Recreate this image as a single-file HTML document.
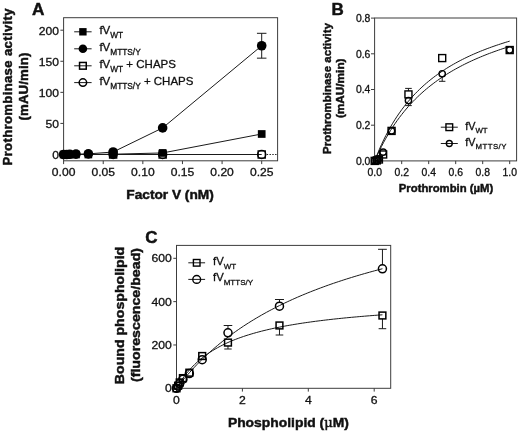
<!DOCTYPE html>
<html lang="en">
<head>
<meta charset="utf-8">
<title>Figure: prothrombinase activity and phospholipid binding</title>
<style>
html,body{margin:0;padding:0;background:#fff;}
body{width:520px;height:434px;overflow:hidden;}
svg{display:block;will-change:transform;opacity:0.999;}
svg text{font-family:"Liberation Sans",Arial,Helvetica,sans-serif;fill:#111;stroke:#111;stroke-width:0.3px;}
svg text[font-weight="bold"]{stroke-width:0.45px;}
</style>
</head>
<body>
<svg width="520" height="434" viewBox="0 0 520 434">
<rect width="520" height="434" fill="#fff"/>
<g id="panelA">
<text transform="translate(32 14.7) scale(1.08 1)" font-size="15.93" text-anchor="start" font-weight="bold">A</text>
<rect x="63.6" y="17.7" width="214" height="143.1" fill="none" stroke="#3c3c3c" stroke-width="1"/>
<path d="M60.4 154.5H63.6" stroke="#3c3c3c" stroke-width="1"/>
<text transform="translate(59 159.1) scale(1.09 1)" font-size="11.1" text-anchor="end">0</text>
<path d="M60.4 123.42H63.6" stroke="#3c3c3c" stroke-width="1"/>
<text transform="translate(59 128.03) scale(1.09 1)" font-size="11.1" text-anchor="end">50</text>
<path d="M60.4 92.35H63.6" stroke="#3c3c3c" stroke-width="1"/>
<text transform="translate(59 96.95) scale(1.09 1)" font-size="11.1" text-anchor="end">100</text>
<path d="M60.4 61.27H63.6" stroke="#3c3c3c" stroke-width="1"/>
<text transform="translate(59 65.87) scale(1.09 1)" font-size="11.1" text-anchor="end">150</text>
<path d="M60.4 30.2H63.6" stroke="#3c3c3c" stroke-width="1"/>
<text transform="translate(59 34.8) scale(1.09 1)" font-size="11.1" text-anchor="end">200</text>
<path d="M63.6 160.8V164.1" stroke="#3c3c3c" stroke-width="1"/>
<text transform="translate(63.6 176.2) scale(1.07 1)" font-size="11.31" text-anchor="middle">0.00</text>
<path d="M103.22 160.8V164.1" stroke="#3c3c3c" stroke-width="1"/>
<text transform="translate(103.22 176.2) scale(1.07 1)" font-size="11.31" text-anchor="middle">0.05</text>
<path d="M142.84 160.8V164.1" stroke="#3c3c3c" stroke-width="1"/>
<text transform="translate(142.84 176.2) scale(1.07 1)" font-size="11.31" text-anchor="middle">0.10</text>
<path d="M182.46 160.8V164.1" stroke="#3c3c3c" stroke-width="1"/>
<text transform="translate(182.46 176.2) scale(1.07 1)" font-size="11.31" text-anchor="middle">0.15</text>
<path d="M222.08 160.8V164.1" stroke="#3c3c3c" stroke-width="1"/>
<text transform="translate(222.08 176.2) scale(1.07 1)" font-size="11.31" text-anchor="middle">0.20</text>
<path d="M261.7 160.8V164.1" stroke="#3c3c3c" stroke-width="1"/>
<text transform="translate(261.7 176.2) scale(1.07 1)" font-size="11.31" text-anchor="middle">0.25</text>
<path d="M266.7 154.5H277.6" stroke="#1a1a1a" stroke-width="1" stroke-dasharray="1.4 1.4"/>
<text transform="translate(12.1 86.8) rotate(-90) scale(1.07 1)" font-size="12.24" text-anchor="middle" font-weight="bold" letter-spacing="0.34">Prothrombinase activity</text>
<text transform="translate(27.6 86.5) rotate(-90) scale(1.07 1)" font-size="12.34" text-anchor="middle" font-weight="bold" letter-spacing="0.15">(mAU/min)</text>
<text transform="translate(170 199.4) scale(1.09 1)" font-size="12.57" text-anchor="middle" font-weight="bold">Factor V (nM)</text>
<polyline points="63.6,154.5 66.69,154.5 69.78,154.31 75.96,154.13 88.36,153.88 113.12,152.01 162.65,127.9 261.7,45.74" fill="none" stroke="#1a1a1a" stroke-width="1" stroke-linejoin="round"/>
<polyline points="63.6,154.5 66.69,154.5 69.78,154.5 75.96,154.5 88.36,154.5 113.12,154.19 162.65,152.95 261.7,133.99" fill="none" stroke="#1a1a1a" stroke-width="1" stroke-linejoin="round"/>
<polyline points="63.6,154.5 66.69,154.5 69.78,154.5 75.96,154.5 88.36,154.5 113.12,154.5 162.65,154.5 261.7,154.5" fill="none" stroke="#1a1a1a" stroke-width="1" stroke-linejoin="round"/>
<path d="M261.7 45.74V33.31M256.95 33.31H266.45" stroke="#1a1a1a" stroke-width="1" fill="none"/>
<path d="M261.7 45.74V58.17M256.95 58.17H266.45" stroke="#1a1a1a" stroke-width="1" fill="none"/>
<circle cx="63.6" cy="154.5" r="4.8" fill="#000"/>
<circle cx="66.69" cy="154.5" r="4.8" fill="#000"/>
<circle cx="69.78" cy="154.31" r="4.8" fill="#000"/>
<circle cx="75.96" cy="154.13" r="4.8" fill="#000"/>
<circle cx="88.36" cy="153.88" r="4.8" fill="#000"/>
<circle cx="113.12" cy="152.01" r="4.8" fill="#000"/>
<circle cx="162.65" cy="127.9" r="4.8" fill="#000"/>
<circle cx="261.7" cy="45.74" r="4.8" fill="#000"/>
<rect x="59.75" y="150.65" width="7.7" height="7.7" fill="#000"/>
<rect x="62.84" y="150.65" width="7.7" height="7.7" fill="#000"/>
<rect x="65.93" y="150.65" width="7.7" height="7.7" fill="#000"/>
<rect x="72.11" y="150.65" width="7.7" height="7.7" fill="#000"/>
<rect x="84.51" y="150.65" width="7.7" height="7.7" fill="#000"/>
<rect x="109.28" y="150.34" width="7.7" height="7.7" fill="#000"/>
<rect x="158.8" y="149.1" width="7.7" height="7.7" fill="#000"/>
<rect x="257.85" y="130.14" width="7.7" height="7.7" fill="#000"/>
<rect x="109.53" y="150.9" width="7.2" height="7.2" fill="none" stroke="#000" stroke-width="1.3"/>
<rect x="159.05" y="150.9" width="7.2" height="7.2" fill="none" stroke="#000" stroke-width="1.3"/>
<rect x="258.1" y="150.9" width="7.2" height="7.2" fill="none" stroke="#000" stroke-width="1.3"/>
<circle cx="113.12" cy="154.5" r="4.1" fill="none" stroke="#000" stroke-width="1.3"/>
<circle cx="162.65" cy="154.5" r="4.1" fill="none" stroke="#000" stroke-width="1.3"/>
<circle cx="261.7" cy="154.5" r="4.1" fill="none" stroke="#000" stroke-width="1.3"/>
<path d="M74.2 31.8H91.6" stroke="#1a1a1a" stroke-width="1"/>
<path d="M74.2 48.8H91.6" stroke="#1a1a1a" stroke-width="1"/>
<path d="M74.2 65.8H91.6" stroke="#1a1a1a" stroke-width="1"/>
<path d="M74.2 82.6H91.6" stroke="#1a1a1a" stroke-width="1"/>
<rect x="79.2" y="28.1" width="7.4" height="7.4" fill="#000"/>
<circle cx="82.9" cy="48.8" r="4.3" fill="#000"/>
<rect x="79.55" y="62.45" width="6.7" height="6.7" fill="none" stroke="#000" stroke-width="1.5"/>
<circle cx="82.9" cy="82.6" r="3.75" fill="none" stroke="#000" stroke-width="1.5"/>
<text x="99.4" y="34.2" font-size="11.5">fV<tspan dy="4.14" font-size="8.3" letter-spacing="0">WT</tspan></text>
<text x="99.4" y="51.2" font-size="11.5">fV<tspan dy="4.14" font-size="8.3" letter-spacing="0">MTTS/Y</tspan></text>
<text x="99.4" y="68.2" font-size="11.5">fV<tspan dy="4.14" font-size="8.3" letter-spacing="0">WT</tspan><tspan dy="-4.14" font-size="11.5"> + CHAPS</tspan></text>
<text x="99.4" y="85" font-size="11.5">fV<tspan dy="4.14" font-size="8.3" letter-spacing="0">MTTS/Y</tspan><tspan dy="-4.14" font-size="11.5"> + CHAPS</tspan></text>
</g>
<g id="panelB">
<text transform="translate(331.4 14.5) scale(1.07 1)" font-size="15.89" text-anchor="start" font-weight="bold">B</text>
<rect x="374.6" y="18" width="142" height="142.9" fill="none" stroke="#3c3c3c" stroke-width="1"/>
<path d="M371 160.9H374.6" stroke="#3c3c3c" stroke-width="1"/>
<text x="370.4" y="164.6" font-size="10.4" text-anchor="end">0.0</text>
<path d="M371 125.2H374.6" stroke="#3c3c3c" stroke-width="1"/>
<text x="370.4" y="128.9" font-size="10.4" text-anchor="end">0.2</text>
<path d="M371 89.5H374.6" stroke="#3c3c3c" stroke-width="1"/>
<text x="370.4" y="93.2" font-size="10.4" text-anchor="end">0.4</text>
<path d="M371 53.8H374.6" stroke="#3c3c3c" stroke-width="1"/>
<text x="370.4" y="57.5" font-size="10.4" text-anchor="end">0.6</text>
<path d="M371 18.1H374.6" stroke="#3c3c3c" stroke-width="1"/>
<text x="370.4" y="21.8" font-size="10.4" text-anchor="end">0.8</text>
<path d="M374.7 160.9V164.1" stroke="#3c3c3c" stroke-width="1"/>
<text x="374.7" y="176.3" font-size="10.4" text-anchor="middle">0.0</text>
<path d="M401.7 160.9V164.1" stroke="#3c3c3c" stroke-width="1"/>
<text x="401.7" y="176.3" font-size="10.4" text-anchor="middle">0.2</text>
<path d="M428.7 160.9V164.1" stroke="#3c3c3c" stroke-width="1"/>
<text x="428.7" y="176.3" font-size="10.4" text-anchor="middle">0.4</text>
<path d="M455.7 160.9V164.1" stroke="#3c3c3c" stroke-width="1"/>
<text x="455.7" y="176.3" font-size="10.4" text-anchor="middle">0.6</text>
<path d="M482.7 160.9V164.1" stroke="#3c3c3c" stroke-width="1"/>
<text x="482.7" y="176.3" font-size="10.4" text-anchor="middle">0.8</text>
<path d="M509.7 160.9V164.1" stroke="#3c3c3c" stroke-width="1"/>
<text x="509.7" y="176.3" font-size="10.4" text-anchor="middle">1.0</text>
<text transform="translate(330.6 88.4) rotate(-90) scale(1.0 1)" font-size="11.3" text-anchor="middle" font-weight="bold" letter-spacing="0.1">Prothrombinase activity</text>
<text transform="translate(344.4 88.3) rotate(-90) scale(1.0 1)" font-size="11.8" text-anchor="middle" font-weight="bold" letter-spacing="0">(mAU/min)</text>
<text x="446" y="191.8" font-size="11.3" text-anchor="middle" font-weight="bold">Prothrombin (µM)</text>
<polyline points="374.7,160.9 376.95,155.14 379.2,149.74 381.45,144.66 383.7,139.88 385.95,135.36 388.2,131.1 390.45,127.07 392.7,123.24 394.95,119.61 397.2,116.16 399.45,112.88 401.7,109.76 403.95,106.77 406.2,103.93 408.45,101.2 410.7,98.6 412.95,96.1 415.2,93.71 417.45,91.42 419.7,89.22 421.95,87.1 424.2,85.06 426.45,83.1 428.7,81.22 430.95,79.4 433.2,77.64 435.45,75.95 437.7,74.31 439.95,72.73 442.2,71.21 444.45,69.73 446.7,68.3 448.95,66.91 451.2,65.57 453.45,64.27 455.7,63.01 457.95,61.78 460.2,60.6 462.45,59.44 464.7,58.32 466.95,57.23 469.2,56.17 471.45,55.14 473.7,54.14 475.95,53.16 478.2,52.21 480.45,51.28 482.7,50.38 484.95,49.5 487.2,48.64 489.45,47.81 491.7,46.99 493.95,46.19 496.2,45.41 498.45,44.66 500.7,43.91 502.95,43.19 505.2,42.48 507.45,41.79 509.7,41.11" fill="none" stroke="#1a1a1a" stroke-width="1" stroke-linejoin="round"/>
<polyline points="374.7,160.9 376.95,155.85 379.2,151.07 381.45,146.55 383.7,142.26 385.95,138.18 388.2,134.31 390.45,130.62 392.7,127.1 394.95,123.75 397.2,120.54 399.45,117.47 401.7,114.54 403.95,111.72 406.2,109.03 408.45,106.44 410.7,103.95 412.95,101.56 415.2,99.26 417.45,97.04 419.7,94.91 421.95,92.85 424.2,90.86 426.45,88.95 428.7,87.1 430.95,85.31 433.2,83.58 435.45,81.9 437.7,80.28 439.95,78.71 442.2,77.19 444.45,75.71 446.7,74.28 448.95,72.89 451.2,71.54 453.45,70.23 455.7,68.96 457.95,67.72 460.2,66.52 462.45,65.34 464.7,64.2 466.95,63.09 469.2,62.01 471.45,60.96 473.7,59.93 475.95,58.93 478.2,57.96 480.45,57.01 482.7,56.08 484.95,55.17 487.2,54.28 489.45,53.42 491.7,52.57 493.95,51.75 496.2,50.94 498.45,50.15 500.7,49.38 502.95,48.63 505.2,47.89 507.45,47.16 509.7,46.46" fill="none" stroke="#1a1a1a" stroke-width="1" stroke-linejoin="round"/>
<path d="M408.45 91.01V88.4M405.15 88.4H411.75" stroke="#1a1a1a" stroke-width="1" fill="none"/>
<path d="M408.45 103.57V105.6M405.15 105.6H411.75" stroke="#1a1a1a" stroke-width="1" fill="none"/>
<path d="M442.2 76.79V81.3M439 81.3H445.4" stroke="#1a1a1a" stroke-width="1" fill="none"/>
<rect x="371.2" y="157.4" width="7" height="7" fill="none" stroke="#000" stroke-width="1.4"/>
<rect x="373.31" y="156.86" width="7" height="7" fill="none" stroke="#000" stroke-width="1.4"/>
<rect x="375.42" y="155.97" width="7" height="7" fill="none" stroke="#000" stroke-width="1.4"/>
<rect x="379.64" y="150.97" width="7" height="7" fill="none" stroke="#000" stroke-width="1.4"/>
<rect x="388.07" y="127.41" width="7" height="7" fill="none" stroke="#000" stroke-width="1.4"/>
<rect x="404.95" y="90.91" width="7" height="7" fill="none" stroke="#000" stroke-width="1.4"/>
<rect x="438.7" y="54.58" width="7" height="7" fill="none" stroke="#000" stroke-width="1.4"/>
<rect x="506.2" y="46.55" width="7" height="7" fill="none" stroke="#000" stroke-width="1.4"/>
<circle cx="374.7" cy="160.9" r="3.15" fill="none" stroke="#000" stroke-width="1.4"/>
<circle cx="376.81" cy="160.19" r="3.15" fill="none" stroke="#000" stroke-width="1.4"/>
<circle cx="378.92" cy="158.76" r="3.15" fill="none" stroke="#000" stroke-width="1.4"/>
<circle cx="383.14" cy="152.15" r="3.15" fill="none" stroke="#000" stroke-width="1.4"/>
<circle cx="391.57" cy="130.91" r="3.15" fill="none" stroke="#000" stroke-width="1.4"/>
<circle cx="408.45" cy="100.57" r="3.15" fill="none" stroke="#000" stroke-width="1.4"/>
<circle cx="442.2" cy="73.79" r="3.15" fill="none" stroke="#000" stroke-width="1.4"/>
<circle cx="509.7" cy="50.05" r="3.15" fill="none" stroke="#000" stroke-width="1.4"/>
<path d="M440.8 127.2H457.8" stroke="#1a1a1a" stroke-width="1"/>
<path d="M440.8 143.5H457.8" stroke="#1a1a1a" stroke-width="1"/>
<rect x="445.95" y="123.85" width="6.7" height="6.7" fill="none" stroke="#000" stroke-width="1.4"/>
<circle cx="449.3" cy="143.5" r="2.95" fill="none" stroke="#000" stroke-width="1.4"/>
<text x="465.2" y="129.5" font-size="10.8">fV<tspan dy="3.89" font-size="7.8" letter-spacing="0">WT</tspan></text>
<text x="465.2" y="145.6" font-size="10.8">fV<tspan dy="3.89" font-size="7.8" letter-spacing="0.5">MTTS/Y</tspan></text>
</g>
<g id="panelC">
<text transform="translate(145.2 243) scale(1.07 1)" font-size="15.89" text-anchor="start" font-weight="bold">C</text>
<rect x="176.5" y="245.4" width="214.2" height="142.9" fill="none" stroke="#3c3c3c" stroke-width="1"/>
<path d="M173.3 388.3H176.5" stroke="#3c3c3c" stroke-width="1"/>
<text transform="translate(171.8 392.4) scale(1.07 1)" font-size="11.4" text-anchor="end">0</text>
<path d="M173.3 344.97H176.5" stroke="#3c3c3c" stroke-width="1"/>
<text transform="translate(171.8 349.07) scale(1.07 1)" font-size="11.4" text-anchor="end">200</text>
<path d="M173.3 301.63H176.5" stroke="#3c3c3c" stroke-width="1"/>
<text transform="translate(171.8 305.73) scale(1.07 1)" font-size="11.4" text-anchor="end">400</text>
<path d="M173.3 258.3H176.5" stroke="#3c3c3c" stroke-width="1"/>
<text transform="translate(171.8 262.4) scale(1.07 1)" font-size="11.4" text-anchor="end">600</text>
<path d="M176.5 388.3V391.6" stroke="#3c3c3c" stroke-width="1"/>
<text transform="translate(176.5 403.9) scale(1.07 1)" font-size="11.4" text-anchor="middle">0</text>
<path d="M242.4 388.3V391.6" stroke="#3c3c3c" stroke-width="1"/>
<text transform="translate(242.4 403.9) scale(1.07 1)" font-size="11.4" text-anchor="middle">2</text>
<path d="M308.3 388.3V391.6" stroke="#3c3c3c" stroke-width="1"/>
<text transform="translate(308.3 403.9) scale(1.07 1)" font-size="11.4" text-anchor="middle">4</text>
<path d="M374.2 388.3V391.6" stroke="#3c3c3c" stroke-width="1"/>
<text transform="translate(374.2 403.9) scale(1.07 1)" font-size="11.4" text-anchor="middle">6</text>
<text transform="translate(123.6 315.5) rotate(-90) scale(1.07 1)" font-size="13.22" text-anchor="middle" font-weight="bold" letter-spacing="0">Bound phospholipid</text>
<text transform="translate(140.2 315) rotate(-90) scale(1.07 1)" font-size="13.27" text-anchor="middle" font-weight="bold" letter-spacing="0">(fluorescence/bead)</text>
<text transform="translate(288.4 427) scale(1.06 1)" font-size="13.1" text-anchor="middle" font-weight="bold">Phospholipid (<tspan font-family="'DejaVu Serif', serif" font-weight="normal" font-size="12.4">μ</tspan>M)</text>
<polyline points="176.5,388.3 179.07,385 181.65,381.79 184.22,378.68 186.8,375.67 189.37,372.74 191.95,369.89 194.52,367.12 197.09,364.43 199.67,361.81 202.24,359.27 204.82,356.79 207.39,354.37 209.96,352.02 212.54,349.73 215.11,347.5 217.69,345.32 220.26,343.2 222.84,341.12 225.41,339.1 227.98,337.13 230.56,335.2 233.13,333.31 235.71,331.47 238.28,329.67 240.86,327.92 243.43,326.2 246,324.51 248.58,322.87 251.15,321.26 253.73,319.68 256.3,318.14 258.88,316.63 261.45,315.15 264.02,313.7 266.6,312.28 269.17,310.89 271.75,309.52 274.32,308.18 276.89,306.87 279.47,305.59 282.04,304.32 284.62,303.08 287.19,301.87 289.77,300.68 292.34,299.5 294.91,298.35 297.49,297.23 300.06,296.12 302.64,295.03 305.21,293.96 307.79,292.9 310.36,291.87 312.93,290.85 315.51,289.86 318.08,288.87 320.66,287.91 323.23,286.96 325.8,286.02 328.38,285.1 330.95,284.2 333.53,283.31 336.1,282.43 338.68,281.57 341.25,280.72 343.82,279.89 346.4,279.06 348.97,278.25 351.55,277.46 354.12,276.67 356.7,275.89 359.27,275.13 361.84,274.38 364.42,273.64 366.99,272.91 369.57,272.19 372.14,271.48 374.71,270.78 377.29,270.09 379.86,269.41 382.44,268.74" fill="none" stroke="#1a1a1a" stroke-width="1" stroke-linejoin="round"/>
<polyline points="176.5,388.3 179.07,383.96 181.65,380.01 184.22,376.4 186.8,373.09 189.37,370.05 191.95,367.23 194.52,364.62 197.09,362.2 199.67,359.94 202.24,357.83 204.82,355.86 207.39,354.01 209.96,352.27 212.54,350.63 215.11,349.09 217.69,347.63 220.26,346.25 222.84,344.94 225.41,343.69 227.98,342.51 230.56,341.39 233.13,340.32 235.71,339.3 238.28,338.33 240.86,337.4 243.43,336.5 246,335.65 248.58,334.83 251.15,334.05 253.73,333.3 256.3,332.57 258.88,331.88 261.45,331.21 264.02,330.56 266.6,329.94 269.17,329.34 271.75,328.76 274.32,328.2 276.89,327.66 279.47,327.14 282.04,326.63 284.62,326.14 287.19,325.67 289.77,325.21 292.34,324.77 294.91,324.34 297.49,323.92 300.06,323.51 302.64,323.12 305.21,322.73 307.79,322.36 310.36,322 312.93,321.65 315.51,321.31 318.08,320.97 320.66,320.65 323.23,320.33 325.8,320.02 328.38,319.72 330.95,319.43 333.53,319.14 336.1,318.86 338.68,318.59 341.25,318.33 343.82,318.07 346.4,317.81 348.97,317.57 351.55,317.32 354.12,317.09 356.7,316.86 359.27,316.63 361.84,316.41 364.42,316.19 366.99,315.98 369.57,315.77 372.14,315.57 374.71,315.37 377.29,315.18 379.86,314.98 382.44,314.8" fill="none" stroke="#1a1a1a" stroke-width="1" stroke-linejoin="round"/>
<path d="M227.98 328.83V325.5M223.68 325.5H232.28" stroke="#1a1a1a" stroke-width="1" fill="none"/>
<path d="M227.98 345.98V349M224.28 349H231.68" stroke="#1a1a1a" stroke-width="1" fill="none"/>
<path d="M279.47 302.18V299.5M274.97 299.5H283.97" stroke="#1a1a1a" stroke-width="1" fill="none"/>
<path d="M279.47 328.87V335M275.67 335H283.27" stroke="#1a1a1a" stroke-width="1" fill="none"/>
<path d="M382.44 264.81V249.3M378.04 249.3H386.84" stroke="#1a1a1a" stroke-width="1" fill="none"/>
<path d="M382.44 318.9V328.7M378.64 328.7H386.24" stroke="#1a1a1a" stroke-width="1" fill="none"/>
<rect x="173.1" y="384.9" width="6.8" height="6.8" fill="none" stroke="#000" stroke-width="1.5"/>
<rect x="174.71" y="382.3" width="6.8" height="6.8" fill="none" stroke="#000" stroke-width="1.5"/>
<rect x="176.33" y="379.05" width="6.8" height="6.8" fill="none" stroke="#000" stroke-width="1.5"/>
<rect x="179.53" y="374.72" width="6.8" height="6.8" fill="none" stroke="#000" stroke-width="1.5"/>
<rect x="185.95" y="369.3" width="6.8" height="6.8" fill="none" stroke="#000" stroke-width="1.5"/>
<rect x="198.8" y="352.62" width="6.8" height="6.8" fill="none" stroke="#000" stroke-width="1.5"/>
<rect x="224.58" y="339.18" width="6.8" height="6.8" fill="none" stroke="#000" stroke-width="1.5"/>
<rect x="276.07" y="322.07" width="6.8" height="6.8" fill="none" stroke="#000" stroke-width="1.5"/>
<rect x="379.04" y="312.1" width="6.8" height="6.8" fill="none" stroke="#000" stroke-width="1.5"/>
<circle cx="176.5" cy="388.3" r="4" fill="none" stroke="#000" stroke-width="1.5"/>
<circle cx="178.11" cy="386.13" r="4" fill="none" stroke="#000" stroke-width="1.5"/>
<circle cx="179.73" cy="383.53" r="4" fill="none" stroke="#000" stroke-width="1.5"/>
<circle cx="182.93" cy="379.2" r="4" fill="none" stroke="#000" stroke-width="1.5"/>
<circle cx="189.35" cy="373.57" r="4" fill="none" stroke="#000" stroke-width="1.5"/>
<circle cx="202.2" cy="359.7" r="4" fill="none" stroke="#000" stroke-width="1.5"/>
<circle cx="227.98" cy="332.83" r="4" fill="none" stroke="#000" stroke-width="1.5"/>
<circle cx="279.47" cy="306.18" r="4" fill="none" stroke="#000" stroke-width="1.5"/>
<circle cx="382.44" cy="268.81" r="4" fill="none" stroke="#000" stroke-width="1.5"/>
<path d="M188.3 262.8H205.1" stroke="#1a1a1a" stroke-width="1"/>
<path d="M188.3 279.4H205.1" stroke="#1a1a1a" stroke-width="1"/>
<rect x="193.4" y="259.5" width="6.6" height="6.6" fill="none" stroke="#000" stroke-width="1.4"/>
<circle cx="196.7" cy="279.4" r="3.9" fill="none" stroke="#000" stroke-width="1.4"/>
<text x="213" y="265" font-size="11.3">fV<tspan dy="4.07" font-size="8.0" letter-spacing="0">WT</tspan></text>
<text x="213" y="281.3" font-size="11.3">fV<tspan dy="4.07" font-size="8.0" letter-spacing="0">MTTS/Y</tspan></text>
</g>
</svg>
</body>
</html>
